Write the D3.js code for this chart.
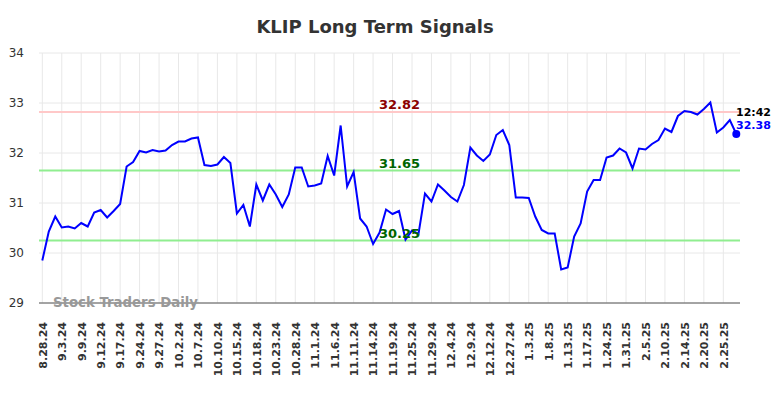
<!DOCTYPE html>
<html>
<head>
<meta charset="utf-8">
<script src="https://cdn.jsdelivr.net/npm/d3@7"></script>
<style>
  body { margin: 0; background: #fff; }
  svg { font-family: "DejaVu Sans", sans-serif; display: block; }
  .grid line { stroke: #e8e8e8; stroke-width: 1; }
</style>
</head>
<body>
<div class="chart"></div>
<script>
// closing prices, one per session
let prices = [29.85, 30.43, 30.73, 30.51, 30.53, 30.49, 30.60, 30.53, 30.81, 30.86,
  30.71, 30.84, 30.98, 31.73, 31.82, 32.04, 32.01, 32.06, 32.03, 32.05,
  32.16, 32.23, 32.23, 32.29, 32.31, 31.76, 31.74, 31.77, 31.92, 31.80,
  30.79, 30.96, 30.53, 31.37, 31.05, 31.37, 31.17, 30.92, 31.17, 31.71,
  31.71, 31.33, 31.35, 31.39, 31.94, 31.55, 32.55, 31.33, 31.62, 30.69,
  30.53, 30.18, 30.41, 30.87, 30.78, 30.84, 30.27, 30.45, 30.38, 31.19,
  31.03, 31.37, 31.25, 31.12, 31.03, 31.36, 32.11, 31.95, 31.84, 31.97,
  32.36, 32.46, 32.16, 31.11, 31.11, 31.10, 30.73, 30.46, 30.39, 30.39,
  29.67, 29.71, 30.33, 30.59, 31.23, 31.46, 31.46, 31.91, 31.95, 32.09,
  32.01, 31.69, 32.09, 32.07, 32.18, 32.26, 32.49, 32.42, 32.74, 32.84,
  32.82, 32.77, 32.88, 33.01, 32.41, 32.51, 32.66, 32.38]

// a date label every third session
let dateLabels = ["8.28.24", "9.3.24", "9.9.24", "9.12.24", "9.17.24", "9.24.24",
  "9.27.24", "10.2.24", "10.7.24", "10.10.24", "10.15.24", "10.18.24",
  "10.23.24", "10.28.24", "11.1.24", "11.6.24", "11.11.24", "11.14.24",
  "11.19.24", "11.25.24", "11.29.24", "12.4.24", "12.9.24", "12.12.24",
  "12.27.24", "1.3.25", "1.8.25", "1.13.25", "1.17.25", "1.24.25",
  "1.31.25", "2.5.25", "2.10.25", "2.14.25", "2.20.25", "2.25.25"]
let labelStep = 3

let yTicks = [29, 30, 31, 32, 33, 34]

// signal levels
let resistance = [32.82]
let supports = [31.65, 30.25]

let lastTime = "12:42"

let width = 784
let height = 398
let plot = {left: 39, right: 740, top: 53, bottom: 303}

let svg = d3.select(".chart")
  .append("svg")
  .attr("width", width)
  .attr("height", height)

let xScale = d3.scaleLinear()
  .domain([0, prices.length - 1])
  .range([42.3, 736.3])

let yScale = d3.scaleLinear()
  .domain([29, 34])
  .range([plot.bottom, plot.top])

let tickIdx = dateLabels.map((d, i) => i * labelStep)

// Grid
let grid = svg.append("g").attr("class", "grid")
grid.selectAll(".hg")
  .data(yTicks)
  .enter()
  .append("line")
  .attr("x1", plot.left)
  .attr("x2", plot.right)
  .attr("y1", d => yScale(d))
  .attr("y2", d => yScale(d))
grid.selectAll(".vg")
  .data(tickIdx)
  .enter()
  .append("line")
  .attr("x1", d => xScale(d))
  .attr("x2", d => xScale(d))
  .attr("y1", plot.top)
  .attr("y2", plot.bottom)

// Y axis labels
let yAxis = d3.axisLeft(yScale)
  .tickValues(yTicks)
  .tickFormat(d3.format("d"))
  .tickSize(0)
  .tickPadding(15)
svg.append("g")
  .attr("transform", `translate(${plot.left}, 0)`)
  .call(yAxis)
  .call(g => g.select(".domain").remove())
  .call(g => g.selectAll("text")
    .attr("fill", "#333")
    .style("font-size", "12px")
    .style("font-family", "DejaVu Sans"))

// X axis
let xAxis = d3.axisBottom(xScale)
  .tickValues(tickIdx)
  .tickFormat((d, i) => dateLabels[i])
  .tickSize(0)
svg.append("g")
  .attr("transform", `translate(0, ${plot.bottom})`)
  .call(xAxis)
  .call(g => g.select(".domain").remove())
  .call(g => g.selectAll("text")
    .attr("transform", "rotate(-90)")
    .attr("text-anchor", "end")
    .attr("x", -19)
    .attr("y", 0)
    .attr("dy", "0.35em")
    .attr("fill", "#333")
    .style("font-size", "11px")
    .style("font-weight", "bold")
    .style("font-family", "DejaVu Sans"))

svg.append("line")
  .attr("x1", plot.left)
  .attr("x2", plot.right)
  .attr("y1", plot.bottom)
  .attr("y2", plot.bottom)
  .attr("stroke", "#555")
  .attr("stroke-width", 1.2)

// Watermark
svg.append("text")
  .attr("x", 53)
  .attr("y", 307)
  .attr("fill", "#999")
  .style("font-size", "13.3px")
  .style("font-weight", "bold")
  .text("Stock Traders Daily")

// Signal lines
svg.selectAll(".res")
  .data(resistance)
  .enter()
  .append("line")
  .attr("x1", plot.left)
  .attr("x2", plot.right)
  .attr("y1", d => yScale(d))
  .attr("y2", d => yScale(d))
  .attr("stroke", "#ffc8c8")
  .attr("stroke-width", 2)

svg.selectAll(".sup")
  .data(supports)
  .enter()
  .append("line")
  .attr("x1", plot.left)
  .attr("x2", plot.right)
  .attr("y1", d => yScale(d))
  .attr("y2", d => yScale(d))
  .attr("stroke", "#90ee90")
  .attr("stroke-width", 2)

// Price line
let line = d3.line()
  .x((d, i) => xScale(i))
  .y(d => yScale(d))

svg.append("path")
  .datum(prices)
  .attr("d", line)
  .attr("fill", "none")
  .attr("stroke", "#0000ff")
  .attr("stroke-width", 2)

// Signal labels
let midX = 399.5
svg.selectAll(".res-label")
  .data(resistance)
  .enter()
  .append("text")
  .attr("x", midX)
  .attr("y", d => yScale(d) - 3)
  .attr("text-anchor", "middle")
  .attr("fill", "#8b0000")
  .style("font-size", "13px")
  .style("font-weight", "bold")
  .text(d => d.toFixed(2))

svg.selectAll(".sup-label")
  .data(supports)
  .enter()
  .append("text")
  .attr("x", midX)
  .attr("y", d => yScale(d) - 3)
  .attr("text-anchor", "middle")
  .attr("fill", "#006400")
  .style("font-size", "13px")
  .style("font-weight", "bold")
  .text(d => d.toFixed(2))

// Last price marker
let lastI = prices.length - 1
let last = prices[lastI]
svg.append("circle")
  .attr("cx", xScale(lastI))
  .attr("cy", yScale(last))
  .attr("r", 4)
  .attr("fill", "#0000ff")

svg.append("text")
  .attr("x", 736)
  .attr("y", 116)
  .attr("fill", "#000")
  .style("font-size", "11px")
  .style("font-weight", "bold")
  .text(lastTime)

svg.append("text")
  .attr("x", 736)
  .attr("y", 128.5)
  .attr("fill", "#0000ff")
  .style("font-size", "11px")
  .style("font-weight", "bold")
  .text(last.toFixed(2))

// Title
svg.append("text")
  .attr("x", 375)
  .attr("y", 33)
  .attr("text-anchor", "middle")
  .attr("fill", "#333")
  .style("font-size", "18px")
  .style("font-weight", "bold")
  .text("KLIP Long Term Signals")
</script>
</body>
</html>
